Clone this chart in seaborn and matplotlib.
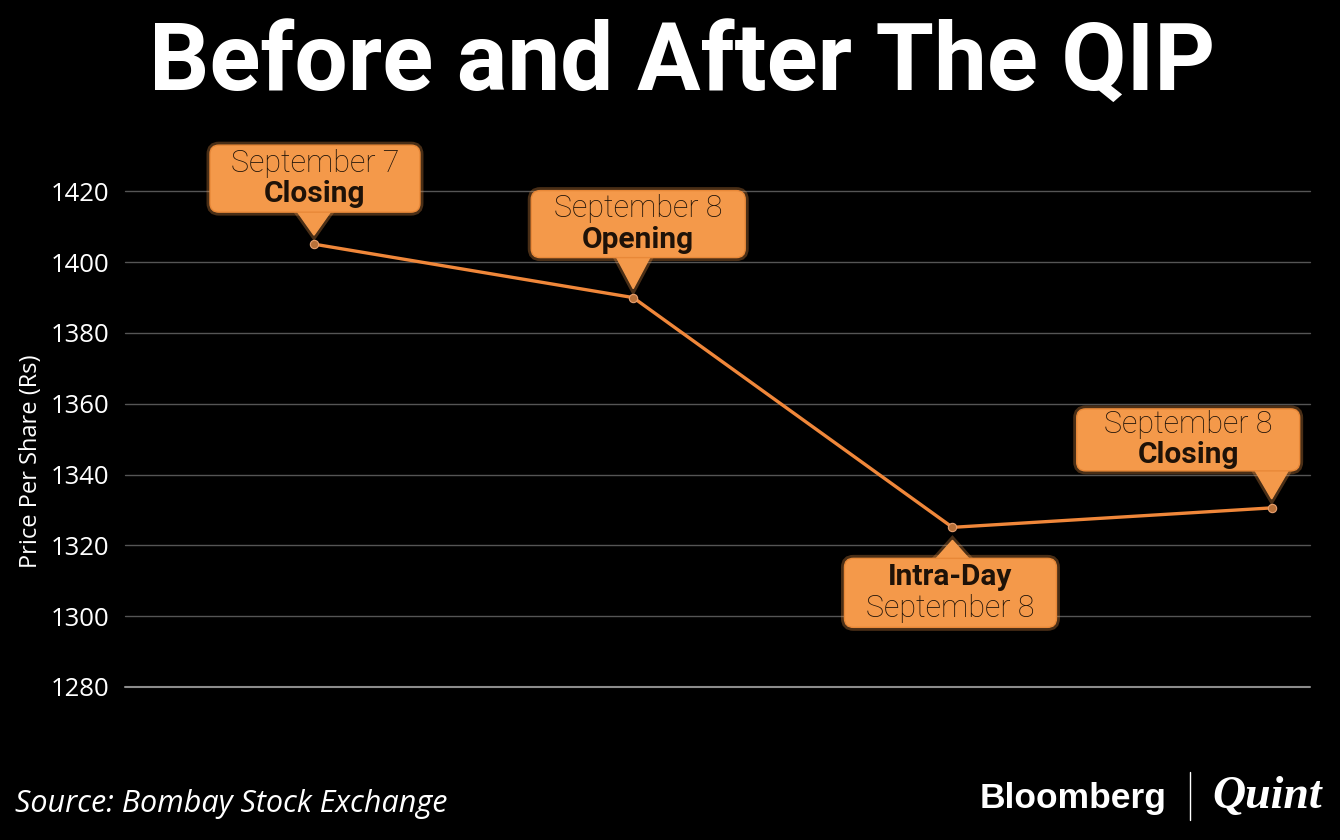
import numpy as np
import pandas as pd
import seaborn as sns
import matplotlib.pyplot as plt
from matplotlib.patches import FancyBboxPatch, Polygon
import matplotlib.patheffects as pe

# data
stages = ['Sep 7 Closing', 'Sep 8 Opening', 'Sep 8 Intra-Day', 'Sep 8 Closing']
prices = [1405.1, 1390.0, 1325.1, 1330.6]
line1 = ['September 7', 'September 8', 'Intra-Day', 'September 8']
line2 = ['Closing', 'Opening', 'September 8', 'Closing']
bold1 = [False, False, True, False]
yticks = [1280, 1300, 1320, 1340, 1360, 1380, 1400, 1420]

df = pd.DataFrame({'pos': np.arange(len(stages)), 'price': prices})

sns.set_style('dark')
plt.rcParams['font.family'] = ['Open Sans', 'DejaVu Sans']

W, H = 1340, 840
fig = plt.figure(figsize=(13.4, 8.4), dpi=100, facecolor='black')
ax = fig.add_axes([125 / W, 1 - 687 / H, (1310 - 125) / W, (687 - 156) / H])
ax.set_facecolor('black')

orange = '#F0873A'
sns.lineplot(data=df, x='pos', y='price', ax=ax, color=orange, lw=2.4,
             marker='o', markersize=6, markerfacecolor='#B8713A',
             markeredgecolor='#E8A070', markeredgewidth=0.8, zorder=3)

ax.set_xlim(-0.592, 3.12)
ax.set_ylim(1280, 1430)
ax.set_yticks(yticks)
ax.set_xticks([])
ax.grid(False)
for t in yticks:
    ax.axhline(t, color='#8c8c8c' if t == 1280 else '#555555',
               lw=1.5 if t == 1280 else 1, zorder=1, clip_on=False)
for s in ax.spines.values():
    s.set_visible(False)
ax.tick_params(axis='y', length=0, pad=11, labelsize=18.5, labelcolor='white')
ax.set_xlabel('')
ax.set_ylabel('Price Per Share (Rs)', color='white', fontsize=17)
ax.yaxis.set_label_coords(-0.069, 0.426)

# callout boxes: centre offset (px) and size
box_off = [(1, 65.5), (5, 73.5), (-2, -65.5), (-83.5, 68)]
box_size = [(210, 67), (214, 67), (212, 69), (223, 62)]
box_fc = '#F4994A'
txt_c = '#1e1208'

fig.canvas.draw()
for i, (x, y) in enumerate(zip(df['pos'], df['price'])):
    px, py = ax.transData.transform((x, y))
    cx, cy = px + box_off[i][0], py + box_off[i][1]
    bw, bh = box_size[i]
    x0, y0 = cx - bw / 2, cy - bh / 2
    glow = [pe.withStroke(linewidth=5, foreground='#F4994A', alpha=0.3)]
    box = FancyBboxPatch((x0, y0), bw, bh, boxstyle='round,pad=0,rounding_size=9',
                         fc=box_fc, ec='#E88838', lw=1, transform=None, zorder=5)
    box.set_path_effects(glow)
    if cy > py:
        base, tip = y0 + 1, py + 9
    else:
        base, tip = y0 + bh - 1, py - 13
    tri = Polygon([(px - 17, base), (px + 17, base), (px, tip)], closed=True,
                  fc=box_fc, ec=box_fc, lw=1, transform=None, zorder=5)
    tri.set_path_effects(glow)
    fig.add_artist(tri)
    fig.add_artist(box)
    fig.text(cx / W, (cy + 15.5) / H, line1[i], ha='center', va='center',
             fontsize=21.5 if bold1[i] else 22, color=txt_c, family='Roboto',
             fontweight='bold' if bold1[i] else 'light', zorder=6)
    fig.text(cx / W, (cy - 15.5) / H, line2[i], ha='center', va='center',
             fontsize=22 if bold1[i] else 21.5, color=txt_c, family='Roboto',
             fontweight='light' if bold1[i] else 'bold', zorder=6)

fig.text(682 / W, 1 - 90 / H, 'Before and After The QIP', ha='center', va='baseline',
         fontsize=68, fontweight='bold', color='white', family='Roboto')
fig.text(15 / W, 1 - 812 / H, 'Source: Bombay Stock Exchange', ha='left', va='baseline',
         fontsize=22, style='italic', color='white')
fig.text(1166 / W, 1 - 808 / H, 'Bloomberg', ha='right', va='baseline', fontsize=25.5,
         fontweight='bold', color='white', family='Liberation Sans')
fig.add_artist(plt.Line2D([1190 / W, 1190 / W], [1 - 820 / H, 1 - 772 / H],
                          color='white', lw=1))
fig.text(1212 / W, 1 - 808 / H, 'Quint', ha='left', va='baseline', fontsize=33,
         fontweight='bold', style='italic', color='white', family='Liberation Serif')

fig.savefig('out.png', dpi=100, facecolor='black')
